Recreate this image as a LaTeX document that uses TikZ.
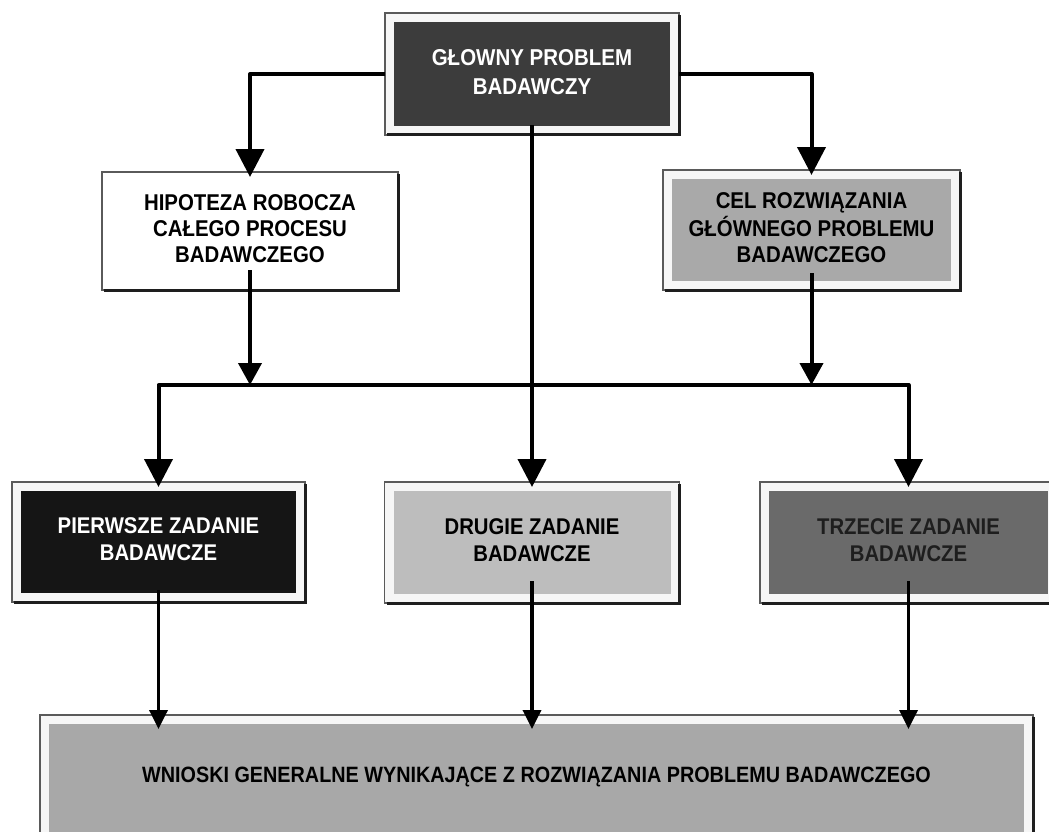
\documentclass[tikz,border=0pt]{standalone}
\usepackage{fontspec}
\usepackage{graphicx}
\setmainfont{Liberation Sans}
\usetikzlibrary{arrows.meta}
\definecolor{cTop}{HTML}{3C3C3C}
\definecolor{cCel}{HTML}{A9A9A9}
\definecolor{cPier}{HTML}{151515}
\definecolor{cDrug}{HTML}{BDBDBD}
\definecolor{cTrz}{HTML}{6A6A6A}
\definecolor{cWn}{HTML}{A8A8A8}
\definecolor{cBand}{HTML}{F6F6F6}
\definecolor{cBorder}{HTML}{5A5A5A}
\definecolor{cShadow}{HTML}{1E1E1E}
\newcommand{\talltext}[1]{\scalebox{1}[1.12]{\begin{tabular}{@{}c@{}}#1\end{tabular}}}
\tikzset{
  boxframe/.style={rectangle, draw=cBorder, line width=1.5pt, fill=cBand,
    inner sep=0pt, outer sep=0pt, align=center,
    font=\fontsize{20.4}{23.2}\selectfont\bfseries},
  corefill/.style={path picture={\fill[#1]
    ([shift={(9pt,9pt)}]path picture bounding box.south west) rectangle
    ([shift={(-9pt,-9pt)}]path picture bounding box.north east);}},
  boxsize/.style 2 args={minimum width=#1, minimum height=#2},
  shade3d/.style={draw=cShadow, line width=3pt, line cap=butt, line join=miter},
  conn/.style={draw=black, line width=4pt, line join=round},
  thinconn/.style={draw=black, line width=3.5pt},
  bigtip/.style={-{Triangle[width=28pt,length=28pt]}},
  midtip/.style={-{Triangle[width=23pt,length=22pt]}},
  smalltip/.style={-{Triangle[width=18pt,length=19pt]}},
}
\begin{document}
\begin{tikzpicture}
\useasboundingbox (0,0) rectangle (1049pt,-832pt);
\clip (0,0) rectangle (1049pt,-832pt);
\fill[white] (0,0) rectangle (1049pt,-832pt);

% boxes
\node[boxframe, corefill=cTop, boxsize={294pt}{122pt}, text=white,
  font=\fontsize{20.5}{26.6}\selectfont\bfseries]
  (T) at (532pt,-74pt) {\talltext{GŁOWNY PROBLEM\\BADAWCZY}};
\node[boxframe, corefill=white, fill=white, boxsize={296pt}{118pt}]
  (H) at (250pt,-231pt) {\talltext{HIPOTEZA ROBOCZA\\CAŁEGO PROCESU\\BADAWCZEGO}};
\node[boxframe, corefill=cCel, boxsize={297pt}{120pt}]
  (C) at (811.5pt,-230pt) {\talltext{CEL ROZWIĄZANIA\\GŁÓWNEGO PROBLEMU\\BADAWCZEGO}};
\node[boxframe, corefill=cPier, boxsize={293pt}{120pt}, text=white,
  font=\fontsize{20.3}{24.1}\selectfont\bfseries]
  (P) at (158.5pt,-542pt) {\talltext{PIERWSZE ZADANIE\\BADAWCZE}};
\node[boxframe, corefill=cDrug, boxsize={295pt}{121pt},
  font=\fontsize{20.3}{24.1}\selectfont\bfseries]
  (D) at (532pt,-542.5pt) {\talltext{DRUGIE ZADANIE\\BADAWCZE}};
\node[boxframe, corefill=cTrz, boxsize={297pt}{121pt}, text=cShadow,
  font=\fontsize{20.3}{24.1}\selectfont\bfseries]
  (R) at (908.5pt,-542.5pt) {\talltext{TRZECIE ZADANIE\\BADAWCZE}};
\node[boxframe, corefill=cWn, boxsize={993pt}{126pt},
  font=\fontsize{19.8}{22}\selectfont\bfseries]
  (W) at (536.5pt,-778pt) {\talltext{WNIOSKI GENERALNE WYNIKAJĄCE Z ROZWIĄZANIA PROBLEMU BADAWCZEGO}};

% 3D shadow edges
\foreach \n in {T,H,C,P,D,R,W}
  \draw[shade3d] ([xshift=2pt]\n.south west) -- (\n.south east) -- ([yshift=-2pt]\n.north east);

% bus coordinate
\coordinate (bus) at (532pt,-385pt);

% connectors
\draw[conn, bigtip] (T.west) -| ([yshift=-5pt]H.north);
\draw[conn, bigtip] (T.east) -| ([yshift=-5pt]C.north);
\draw[conn, bigtip] ([yshift=10pt]T.south) -- ([yshift=-5pt]D.north);
\draw[conn, midtip] ([yshift=20pt]H.south) -- (H.south |- bus);
\draw[conn, midtip] ([yshift=17pt]C.south) -- (C.south |- bus);
\draw[conn, {Triangle[width=28pt,length=28pt]}-{Triangle[width=28pt,length=28pt]}]
  ([yshift=-5pt]P.north) |- (bus) -| ([yshift=-5pt]R.north);
\draw[thinconn, smalltip] ([yshift=12pt]P.south) -- ([yshift=-14pt]P.south |- W.north);
\draw[thinconn, smalltip] ([yshift=22pt]D.south) -- ([yshift=-14pt]D.south |- W.north);
\draw[thinconn, smalltip] ([yshift=22pt]R.south) -- ([yshift=-14pt]R.south |- W.north);
\end{tikzpicture}
\end{document}
